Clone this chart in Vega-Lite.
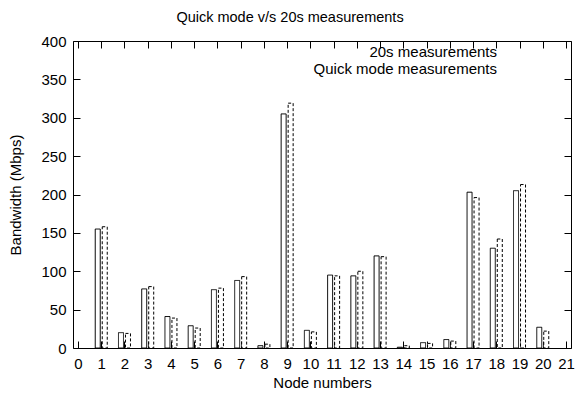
{
  "$schema": "https://vega.github.io/schema/vega-lite/v6.json",
  "width": 498,
  "height": 307,
  "autosize": "none",
  "padding": {"left": 73, "top": 41, "right": 7, "bottom": 49},
  "title": {
    "text": "Quick mode v/s 20s measurements",
    "anchor": "middle",
    "dx": -32,
    "offset": 9,
    "font": "Liberation Sans",
    "fontSize": 14.5,
    "fontWeight": "normal",
    "color": "black"
  },
  "data": {
    "values": [
      {"node": 1, "series": "20s measurements", "value": 155},
      {"node": 1, "series": "Quick mode measurements", "value": 158},
      {"node": 2, "series": "20s measurements", "value": 20},
      {"node": 2, "series": "Quick mode measurements", "value": 19},
      {"node": 3, "series": "20s measurements", "value": 77},
      {"node": 3, "series": "Quick mode measurements", "value": 80},
      {"node": 4, "series": "20s measurements", "value": 41},
      {"node": 4, "series": "Quick mode measurements", "value": 39},
      {"node": 5, "series": "20s measurements", "value": 29},
      {"node": 5, "series": "Quick mode measurements", "value": 26},
      {"node": 6, "series": "20s measurements", "value": 76},
      {"node": 6, "series": "Quick mode measurements", "value": 78},
      {"node": 7, "series": "20s measurements", "value": 88},
      {"node": 7, "series": "Quick mode measurements", "value": 93},
      {"node": 8, "series": "20s measurements", "value": 3},
      {"node": 8, "series": "Quick mode measurements", "value": 5},
      {"node": 9, "series": "20s measurements", "value": 305},
      {"node": 9, "series": "Quick mode measurements", "value": 319},
      {"node": 10, "series": "20s measurements", "value": 23},
      {"node": 10, "series": "Quick mode measurements", "value": 21},
      {"node": 11, "series": "20s measurements", "value": 95},
      {"node": 11, "series": "Quick mode measurements", "value": 94},
      {"node": 12, "series": "20s measurements", "value": 94},
      {"node": 12, "series": "Quick mode measurements", "value": 100},
      {"node": 13, "series": "20s measurements", "value": 120},
      {"node": 13, "series": "Quick mode measurements", "value": 119},
      {"node": 14, "series": "20s measurements", "value": 1},
      {"node": 14, "series": "Quick mode measurements", "value": 3},
      {"node": 15, "series": "20s measurements", "value": 7},
      {"node": 15, "series": "Quick mode measurements", "value": 6},
      {"node": 16, "series": "20s measurements", "value": 11},
      {"node": 16, "series": "Quick mode measurements", "value": 9},
      {"node": 17, "series": "20s measurements", "value": 203},
      {"node": 17, "series": "Quick mode measurements", "value": 196},
      {"node": 18, "series": "20s measurements", "value": 130},
      {"node": 18, "series": "Quick mode measurements", "value": 142},
      {"node": 19, "series": "20s measurements", "value": 205},
      {"node": 19, "series": "Quick mode measurements", "value": 213},
      {"node": 20, "series": "20s measurements", "value": 27},
      {"node": 20, "series": "Quick mode measurements", "value": 22}
    ]
  },
  "encoding": {
    "x": {"field": "node", "type": "quantitative", "scale": {"domain": [0, 21], "nice": false, "zero": false}},
    "y": {"field": "value", "type": "quantitative", "scale": {"domain": [0, 400], "nice": false}},
    "strokeDash": {
      "field": "series", "type": "nominal",
      "scale": {"domain": ["20s measurements", "Quick mode measurements"], "range": [[1, 0], [3, 2]]},
      "legend": {
        "title": null,
        "orient": "none",
        "legendX": 432,
        "legendY": 2,
        "symbolType": "M-1,0L1,0",
        "symbolSize": 256,
        "symbolStrokeColor": "black",
        "symbolStrokeWidth": 1,
        "symbolOpacity": 1,
        "labelAlign": "right",
        "labelOffset": -25,
        "labelLimit": 400,
        "rowPadding": 0,
        "encode": {
          "symbols": {
            "update": {
              "stroke": {"value": "black"},
              "strokeWidth": {"value": 1},
              "fill": {"value": "transparent"},
              "opacity": {"value": 1}
            }
          }
        }
      }
    }
  },
  "layer": [
    {
      "transform": [{"filter": "datum.series === '20s measurements'"}],
      "mark": {"type": "bar", "width": 5, "xOffset": -3.5, "fill": "white", "stroke": "black", "strokeWidth": 1},
      "encoding": {
        "x": {
          "field": "node", "type": "quantitative",
          "axis": {
            "orient": "bottom",
            "values": [0,1,2,3,4,5,6,7,8,9,10,11,12,13,14,15,16,17,18,19,20,21],
            "format": "d",
            "title": "Node numbers"
          }
        },
        "y": {
          "field": "value", "type": "quantitative",
          "axis": {
            "orient": "left",
            "values": [0,50,100,150,200,250,300,350,400],
            "title": "Bandwidth (Mbps)"
          }
        }
      }
    },
    {
      "transform": [{"filter": "datum.series === 'Quick mode measurements'"}],
      "mark": {"type": "bar", "width": 5, "xOffset": 3.5, "fill": "white", "stroke": "black", "strokeWidth": 1},
      "encoding": {
        "x": {
          "field": "node", "type": "quantitative",
          "axis": {
            "orient": "top",
            "values": [0,1,2,3,4,5,6,7,8,9,10,11,12,13,14,15,16,17,18,19,20,21],
            "labels": false,
            "title": null
          }
        },
        "y": {
          "field": "value", "type": "quantitative",
          "axis": {
            "orient": "right",
            "values": [0,50,100,150,200,250,300,350,400],
            "labels": false,
            "title": null
          }
        }
      }
    }
  ],
  "config": {
    "font": "Liberation Sans",
    "view": {"stroke": "black", "strokeWidth": 1},
    "axis": {
      "domain": false,
      "grid": false,
      "ticks": true,
      "tickColor": "black",
      "tickSize": -7,
      "tickWidth": 1,
      "labelColor": "black",
      "labelFont": "Liberation Sans",
      "labelFontSize": 15,
      "titleColor": "black",
      "titleFont": "Liberation Sans",
      "titleFontSize": 15,
      "titleFontWeight": "normal"
    },
    "axisX": {"labelPadding": 15, "titlePadding": 4},
    "axisY": {"labelPadding": 14, "titlePadding": 17},
    "legend": {
      "labelFont": "Liberation Sans",
      "labelFontSize": 15,
      "labelColor": "black",
      "padding": 0
    }
  }
}
